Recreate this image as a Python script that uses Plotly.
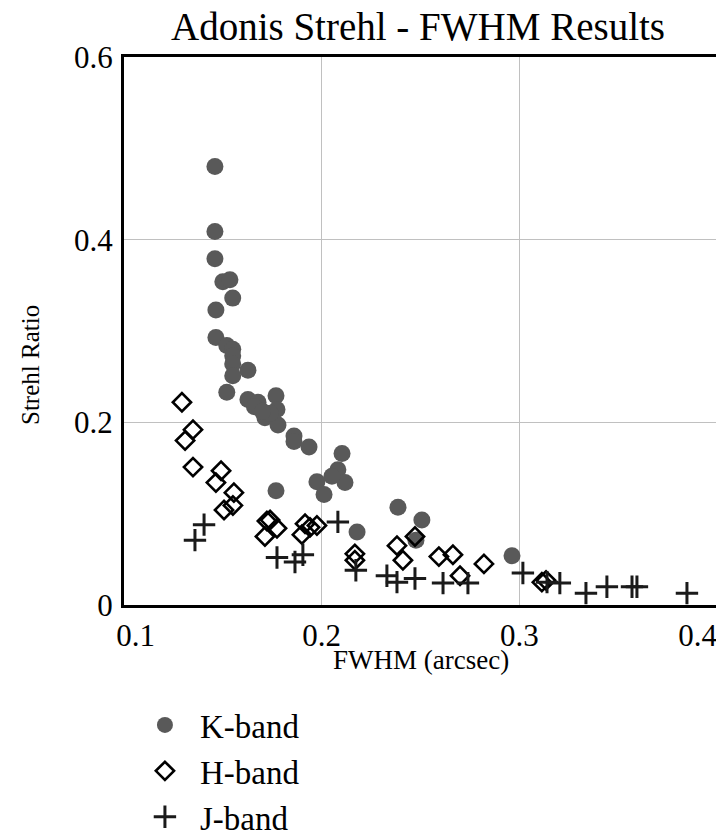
import plotly.graph_objects as go

# K-band (filled circles)
k_fwhm = [0.146, 0.146, 0.146, 0.150, 0.1536, 0.155, 0.1465, 0.1465, 0.152, 0.155,
          0.155, 0.155, 0.1627, 0.155, 0.152, 0.1627, 0.1678, 0.1769, 0.1774, 0.1713,
          0.1779, 0.1740, 0.186, 0.186, 0.1936, 0.1769, 0.1976, 0.2012, 0.2103, 0.2082,
          0.2118, 0.2052, 0.2179, 0.2386, 0.2507, 0.2477, 0.2963, 0.1660, 0.1700]
k_strehl = [0.480, 0.409, 0.379, 0.354, 0.356, 0.336, 0.323, 0.293, 0.284, 0.280,
            0.273, 0.264, 0.257, 0.251, 0.233, 0.225, 0.222, 0.229, 0.214, 0.205,
            0.197, 0.210, 0.185, 0.179, 0.173, 0.125, 0.135, 0.121, 0.166, 0.148,
            0.134, 0.141, 0.080, 0.107, 0.093, 0.071, 0.054, 0.217, 0.212]

# H-band (open diamonds)
h_fwhm = [0.1293, 0.1349, 0.1309, 0.1349, 0.1491, 0.1465, 0.1556, 0.1506, 0.1551, 0.1723,
          0.1739, 0.1774, 0.1713, 0.1916, 0.1941, 0.1976, 0.1900, 0.2168, 0.2168, 0.2381,
          0.2411, 0.2472, 0.2593, 0.2664, 0.2700, 0.2821, 0.3114, 0.3135]
h_strehl = [0.222, 0.192, 0.180, 0.151, 0.147, 0.134, 0.123, 0.104, 0.109, 0.092,
            0.093, 0.084, 0.075, 0.089, 0.085, 0.087, 0.077, 0.056, 0.049, 0.065,
            0.049, 0.075, 0.053, 0.055, 0.032, 0.045, 0.025, 0.027]

# J-band (crosses)
j_fwhm = [0.1405, 0.1359, 0.1774, 0.1865, 0.1905, 0.2082, 0.2173, 0.2330, 0.2381, 0.2472,
          0.2614, 0.2740, 0.3018, 0.3140, 0.3205, 0.3337, 0.3443, 0.3570, 0.3595, 0.3848]
j_strehl = [0.088, 0.071, 0.052, 0.047, 0.055, 0.091, 0.038, 0.032, 0.025, 0.029,
            0.024, 0.024, 0.035, 0.025, 0.024, 0.013, 0.020, 0.020, 0.020, 0.013]

x_ticks = [0.1, 0.2, 0.3, 0.4]
x_ticktext = ["\u00a0\u00a0\u00a00.1", "0.2", "0.3", "0.4\u00a0\u00a0\u00a0\u00a0\u00a0"]
y_ticks = [0, 0.2, 0.4, 0.6]
y_ticktext = ["0", "0.2", "0.4", "0.6"]

SERIF = "Liberation Serif"

fig = go.Figure()
fig.add_trace(go.Scatter(
    x=k_fwhm, y=k_strehl, mode="markers", name="K-band",
    marker=dict(symbol="circle", size=17, color="#595959", line=dict(width=0)),
))
fig.add_trace(go.Scatter(
    x=h_fwhm, y=h_strehl, mode="markers", name="H-band",
    marker=dict(symbol="diamond-open", size=14, color="#000000", line=dict(width=2.6, color="#000000")),
))
fig.add_trace(go.Scatter(
    x=j_fwhm, y=j_strehl, mode="markers", name="J-band",
    marker=dict(symbol="cross-thin-open", size=16, color="#1a1a1a", line=dict(width=3, color="#1a1a1a")),
))

# page body has an 8px margin, so the figure is offset by 8px right/down
fig.update_layout(
    width=724, height=836,
    margin=dict(l=116, r=15, t=49, b=239, autoexpand=False),
    paper_bgcolor="white", plot_bgcolor="white",
    font=dict(family=SERIF, color="black"),
    title=dict(text="Adonis Strehl - FWHM Results", x=410 / 724, xanchor="center",
               y=1 - 18 / 836, yanchor="middle", yref="container",
               font=dict(size=39, family=SERIF, color="black")),
    xaxis=dict(range=[0.1, 0.4], tickvals=x_ticks, ticktext=x_ticktext,
               showgrid=True, gridcolor="#c0c0c0", gridwidth=1,
               showline=True, linecolor="black", linewidth=3, mirror=True,
               ticks="", zeroline=False, tickfont=dict(size=31, family=SERIF),
               ticklabelstandoff=1, ticklabeloverflow="allow", automargin=False),
    yaxis=dict(range=[0, 0.6], tickvals=y_ticks, ticktext=y_ticktext,
               showgrid=True, gridcolor="#c0c0c0", gridwidth=1,
               showline=True, linecolor="black", linewidth=3, mirror=True,
               ticks="", zeroline=False, tickfont=dict(size=31, family=SERIF),
               ticklabelstandoff=2, automargin=False),
    showlegend=True,
    legend=dict(x=0.01, y=(605 - 697) / 548, xanchor="left", yanchor="top",
                font=dict(size=33, family=SERIF, color="black"),
                itemwidth=60, tracegroupgap=0, bgcolor="rgba(0,0,0,0)"),
    annotations=[
        dict(text="FWHM (arcsec)", x=0.5, y=(605 - 660) / 548, xref="paper", yref="paper",
             xanchor="center", yanchor="middle", showarrow=False,
             font=dict(size=27, family=SERIF, color="black")),
        dict(text="Strehl Ratio", x=(30 - 124) / 593, y=(605 - 365) / 548,
             xref="paper", yref="paper",
             xanchor="center", yanchor="middle", showarrow=False, textangle=-90,
             font=dict(size=25, family=SERIF, color="black")),
    ],
)

fig.write_html("out.html")
